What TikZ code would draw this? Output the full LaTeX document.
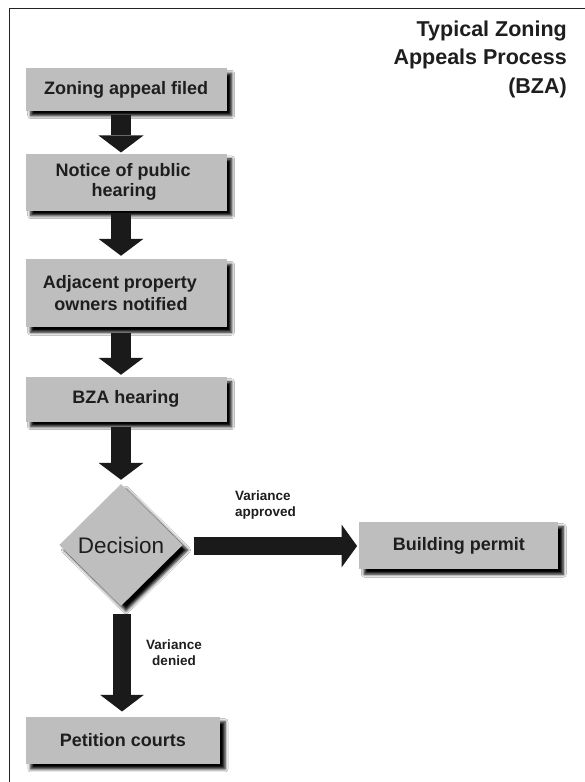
\documentclass[tikz,border=0pt]{standalone}
\usepackage{fontspec}
\setmainfont{Liberation Sans}
\usetikzlibrary{shapes.geometric,shadows.blur,arrows.meta}
\definecolor{boxgray}{HTML}{BEBEBE}
\definecolor{arrowblack}{HTML}{1A1A1A}
\definecolor{inkgray}{HTML}{1E1E1E}
\definecolor{framegray}{HTML}{222222}
\begin{document}
\begin{tikzpicture}[x=1pt,y=-1pt,
  boxshadow/.style={blur shadow={shadow xshift=5pt, shadow yshift=-5pt, shadow blur radius=3pt, shadow opacity=100}},
  stepbox/.style={rectangle, fill=boxgray, inner sep=0pt, align=center, text=inkgray,
    font=\fontsize{18}{20}\selectfont\bfseries, boxshadow},
  decision/.style={diamond, fill=boxgray, inner sep=0pt, minimum width=123.4pt, minimum height=122pt,
    text=inkgray, font=\fontsize{22.5}{24}\selectfont, boxshadow},
  bigarrow/.style={draw=arrowblack, line width=20pt, line cap=butt,
    -{Triangle[length=17pt, width=45pt, line width=0pt]}},
  lbl/.style={inner sep=0pt, text=inkgray, font=\fontsize{13.5}{16}\selectfont\bfseries},
  titletext/.style={inner sep=0pt, text=inkgray, align=right, font=\fontsize{21.5}{28.5}\selectfont\bfseries}
]
\fill[white] (0,0) rectangle (585,782);
\useasboundingbox (0,0) rectangle (585,782);
\draw[line width=1.5pt, framegray] (9.3,782) -- (9.3,8.3) -- (585,8.3);

\node[titletext, anchor=north east] (title) at (567,20.5) {Typical Zoning\\Appeals Process\\(BZA)};

\node[stepbox, minimum width=201pt, minimum height=42.4pt] (z1) at (126.2,89.5) {Zoning appeal filed};
\node[stepbox, minimum width=201pt, minimum height=56.7pt] (z2) at (126.2,182.3) {Notice of public\hspace*{6pt}\\hearing\hspace*{4pt}};
\node[stepbox, minimum width=201pt, minimum height=68pt] (z3) at (126,293.3) {Adjacent property\hspace*{12pt}\\[1.5pt]owners notified\hspace*{10pt}};
\node[stepbox, minimum width=201pt, minimum height=45pt] (z4) at (126,399.2) {BZA hearing};
\node[decision] (dec) at (121,545) {Decision};
\node[stepbox, minimum width=199pt, minimum height=47.6pt] (bp) at (458.8,545.5) {Building permit};
\node[stepbox, minimum width=194.3pt, minimum height=47.3pt] (pc) at (122.9,740.3) {Petition courts};

\draw[bigarrow, shorten <=4.5pt, shorten >=1.3pt] (z1.south -| dec.center) -- (z2.north -| dec.center);
\draw[bigarrow, shorten <=2.3pt, shorten >=3.3pt] (z2.south -| dec.center) -- (z3.north -| dec.center);
\draw[bigarrow, shorten <=5.4pt, shorten >=1.7pt] (z3.south -| dec.center) -- (z4.north -| dec.center);
\draw[bigarrow, shorten <=5pt, shorten >=4pt] (z4.south -| dec.center) -- (dec.north);
\draw[bigarrow, line width=18.6pt, -{Triangle[length=15.6pt, width=43pt, line width=0pt]}, shorten <=10.6pt, shorten >=2pt] ([yshift=-1pt]dec.east) -- ([yshift=-1pt]dec.east -| bp.west);
\draw[bigarrow, line width=18.4pt, -{Triangle[length=16.7pt, width=44pt, line width=0pt]}, shorten <=8pt, shorten >=5pt] ([xshift=1pt]dec.south) -- ([xshift=1pt]dec.south |- pc.north);

\node[lbl, anchor=west, align=left] (lapp) at (235,505) {Variance\\approved};
\node[lbl, align=center] (lden) at (174,652.5) {Variance\\denied};
\end{tikzpicture}
\end{document}
